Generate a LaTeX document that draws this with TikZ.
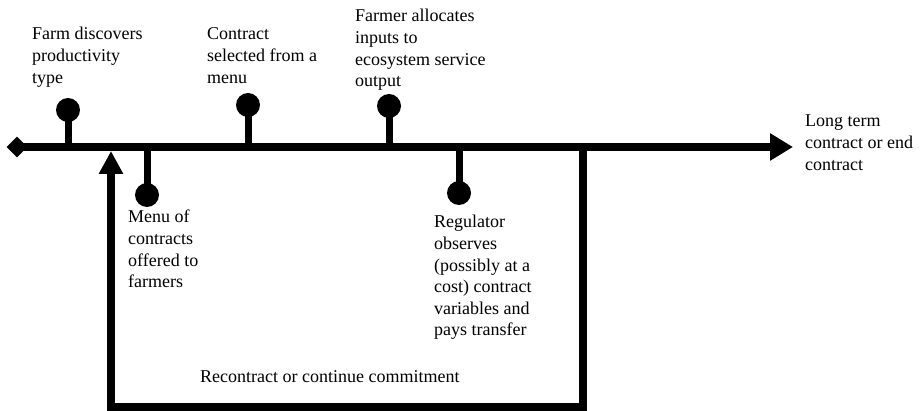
\documentclass[tikz,border=0pt]{standalone}
\usepackage{fontspec}
\setmainfont{Liberation Serif}
\usetikzlibrary{arrows.meta,shapes.geometric}
\begin{document}
\begin{tikzpicture}[x=1pt,y=-1pt,
  bar/.style={line width=8pt,draw=black,line join=miter},
  stem/.style={line width=7pt,draw=black},
  pin/.style={circle,fill=black,inner sep=0pt,minimum size=24pt},
  lbl/.style={anchor=base west,align=left,inner sep=0pt,font=\fontsize{18}{21.6}\selectfont}]
\useasboundingbox (0,0) rectangle (921,411);
% timeline
\node[diamond,fill=black,inner sep=0pt,minimum size=21pt] (start) at (17,147) {};
\coordinate (end) at (793,147);
\draw[bar,-{Triangle[length=23pt,width=26pt]}] (start.center) -- (end);
% pins
\node[pin] (p1) at (68,110) {};
\node[pin] (p2) at (147,195) {};
\node[pin] (p3) at (248,105) {};
\node[pin] (p4) at (389,106) {};
\node[pin] (p5) at (459,193) {};
\coordinate (s1) at (68,147);
\coordinate (s2) at (147,147);
\coordinate (s3) at (248,147);
\coordinate (s4) at (389,147);
\coordinate (s5) at (459,147);
\draw[stem] (p1.center) -- (s1);
\draw[stem] (p2.center) -- (s2);
\draw[stem] (p3.center) -- (s3);
\draw[stem] (p4.center) -- (s4);
\draw[stem] (p5.center) -- (s5);
% feedback loop
\coordinate (r) at (583,147);
\coordinate (br) at (583,407);
\coordinate (bl) at (111,407);
\coordinate (up) at (111,151);
\draw[bar,-{Triangle[length=23pt,width=23pt]}] (r) -- (br) -- (bl) -- (up);
% labels (anchored at the baseline of the last line)
\node[lbl] (t1) at (32,83.2) {Farm discovers\\productivity\\type};
\node[lbl] (t3) at (207,83.2) {Contract\\selected from a\\menu};
\node[lbl] (t4) at (355,86.8) {Farmer allocates\\inputs to\\ecosystem service\\output};
\node[lbl] (t2) at (128,287.8) {Menu of\\contracts\\offered to\\farmers};
\node[lbl] (t5) at (434,336) {Regulator\\observes\\(possibly at a\\cost) contract\\variables and\\pays transfer};
\node[lbl] (tend) at (805,170.2) {Long term\\contract or end\\contract};
\node[lbl] (tloop) at (200,383) {Recontract or continue commitment};
\end{tikzpicture}
\end{document}
